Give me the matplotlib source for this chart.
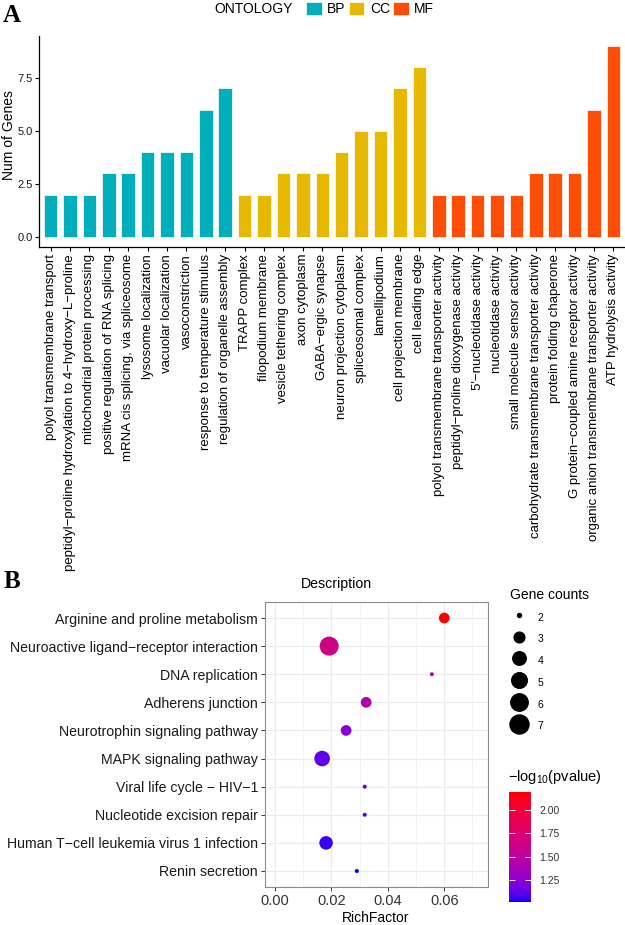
import numpy as np
import matplotlib
matplotlib.use("Agg")
import matplotlib.pyplot as plt
from matplotlib.patches import Patch
from matplotlib.lines import Line2D
from matplotlib.colors import ListedColormap, Normalize
from matplotlib.cm import ScalarMappable

plt.rcParams['font.family'] = ['Liberation Sans', 'DejaVu Sans']
plt.rcParams['mathtext.default'] = 'regular'

# ---- panel A data: GO terms ----
bp_terms = ["polyol transmembrane transport",
            "peptidyl\u2212proline hydroxylation to 4\u2212hydroxy\u2212L\u2212proline",
            "mitochondrial protein processing",
            "positive regulation of RNA splicing",
            "mRNA cis splicing, via spliceosome",
            "lysosome localization",
            "vacuolar localization",
            "vasoconstriction",
            "response to temperature stimulus",
            "regulation of organelle assembly"]
bp_counts = [2, 2, 2, 3, 3, 4, 4, 4, 6, 7]

cc_terms = ["TRAPP complex",
            "filopodium membrane",
            "vesicle tethering complex",
            "axon cytoplasm",
            "GABA\u2212ergic synapse",
            "neuron projection cytoplasm",
            "spliceosomal complex",
            "lamellipodium",
            "cell projection membrane",
            "cell leading edge"]
cc_counts = [2, 2, 3, 3, 3, 4, 5, 5, 7, 8]

mf_terms = ["polyol transmembrane transporter activity",
            "peptidyl\u2212proline dioxygenase activity",
            "5'\u2212nucleotidase activity",
            "nucleotidase activity",
            "small molecule sensor activity",
            "carbohydrate transmembrane transporter activity",
            "protein folding chaperone",
            "G protein\u2212coupled amine receptor activity",
            "organic anion transmembrane transporter activity",
            "ATP hydrolysis activity"]
mf_counts = [2, 2, 2, 2, 2, 3, 3, 3, 6, 9]

ontologies = ["BP", "CC", "MF"]
onto_colors = {"BP": "#00AFBB", "CC": "#E7B800", "MF": "#FC4E07"}

# ---- panel B data: KEGG pathways ----
pathways = ["Arginine and proline metabolism",
            "Neuroactive ligand\u2212receptor interaction",
            "DNA replication",
            "Adherens junction",
            "Neurotrophin signaling pathway",
            "MAPK signaling pathway",
            "Viral life cycle \u2212 HIV\u22121",
            "Nucleotide excision repair",
            "Human T\u2212cell leukemia virus 1 infection",
            "Renin secretion"]
rich_factor = [0.0600, 0.0192, 0.0556, 0.0323, 0.0252, 0.0167, 0.0318, 0.0318, 0.0181, 0.0290]
gene_counts = [3, 7, 2, 3, 3, 5, 2, 2, 4, 2]
neg_log_p = [2.193, 1.63, 1.49, 1.41, 1.23, 1.12, 1.09, 1.09, 1.05, 1.017]


def srgb_to_lab(rgb):
    c = np.asarray(rgb, float)
    lin = np.where(c <= 0.04045, c / 12.92, ((c + 0.055) / 1.055) ** 2.4)
    m = np.array([[0.4124, 0.3576, 0.1805],
                  [0.2126, 0.7152, 0.0722],
                  [0.0193, 0.1192, 0.9505]])
    xyz = m @ lin / np.array([0.95047, 1.0, 1.08883])
    f = np.where(xyz > 0.008856, np.cbrt(xyz), 7.787 * xyz + 16 / 116)
    return np.array([116 * f[1] - 16, 500 * (f[0] - f[1]), 200 * (f[1] - f[2])])


def lab_to_srgb(lab):
    L, a, b = lab
    fy = (L + 16) / 116
    f = np.array([fy + a / 500, fy, fy - b / 200])
    xyz = np.where(f ** 3 > 0.008856, f ** 3, (f - 16 / 116) / 7.787) * np.array([0.95047, 1.0, 1.08883])
    minv = np.array([[3.2406, -1.5372, -0.4986],
                     [-0.9689, 1.8758, 0.0415],
                     [0.0557, -0.2040, 1.0570]])
    lin = np.clip(minv @ xyz, 0, 1)
    srgb = np.where(lin <= 0.0031308, 12.92 * lin, 1.055 * lin ** (1 / 2.4) - 0.055)
    return np.clip(srgb, 0, 1)


# blue -> red gradient interpolated in Lab (like ggplot's gradient)
lab_lo = srgb_to_lab([0, 0, 1])
lab_hi = srgb_to_lab([1, 0, 0])
grad = [lab_to_srgb(lab_lo + t * (lab_hi - lab_lo)) for t in np.linspace(0, 1, 256)]
cmap = ListedColormap(grad)


def point_diam(n):
    # area scale, size range 1..6 (+ stroke), in pixels
    lo, hi = min(gene_counts), max(gene_counts)
    return 3.0 * (1 + 5 * np.sqrt((n - lo) / (hi - lo))) + 1.0


W, H = 625, 925
fig = plt.figure(figsize=(W / 100, H / 100), dpi=100)

# ================= panel A =================
ax1 = fig.add_axes([39 / W, 1 - 247 / H, (W - 39) / W, (247 - 36) / H])
terms = bp_terms + cc_terms + mf_terms
counts = bp_counts + cc_counts + mf_counts
groups = ["BP"] * len(bp_terms) + ["CC"] * len(cc_terms) + ["MF"] * len(mf_terms)
xpos = np.arange(len(terms))
ax1.bar(xpos, counts, width=0.7, color=[onto_colors[g] for g in groups],
        edgecolor="white", linewidth=0.5)
ax1.set_xlim(-0.6, len(terms) - 0.4)
ax1.set_ylim(-0.45, 9.45)
ax1.set_yticks([0, 2.5, 5, 7.5])
ax1.set_yticklabels(["0.0", "2.5", "5.0", "7.5"])
ax1.set_xticks(xpos)
ax1.set_xticklabels(terms, rotation=90, fontsize=9.5)
ax1.tick_params(axis="y", labelsize=8, length=3, width=0.8, pad=1.5, labelcolor="#1a1a1a")
ax1.tick_params(axis="x", length=3, width=0.8, pad=2)
for s in ["top", "right"]:
    ax1.spines[s].set_visible(False)
for s in ["left", "bottom"]:
    ax1.spines[s].set_linewidth(0.9)

fig.text(9 / W, 1 - 135 / H, "Num of Genes", rotation=90, ha="center", va="center", fontsize=10)

fig.text(214 / W, 1 - 9 / H, "ONTOLOGY", ha="left", va="center", fontsize=10)
handles = [Patch(facecolor=onto_colors[o], edgecolor="white", linewidth=0.5) for o in ontologies]
fig.legend(handles, ontologies, ncol=3, loc="center left",
           bbox_to_anchor=(306 / W, 1 - 9 / H), frameon=False, fontsize=10,
           handlelength=1.12, handleheight=1.12, handletextpad=0.41,
           columnspacing=0.22, borderpad=0, borderaxespad=0)

fig.text(12 / W, 1 - 16 / H, "A", ha="center", va="center", fontsize=18,
         fontweight="bold", family="Liberation Serif")

# ================= panel B =================
ax2 = fig.add_axes([265 / W, 1 - 887.3 / H, (487.7 - 265) / W, (887.3 - 601.7) / H])
ypos = np.arange(len(pathways))
norm = Normalize(vmin=min(neg_log_p), vmax=max(neg_log_p))
sizes = [(point_diam(n) * 0.72) ** 2 for n in gene_counts]
ax2.scatter(rich_factor, ypos, s=sizes, c=neg_log_p, cmap=cmap, norm=norm,
            edgecolors="none", zorder=3)
ax2.set_ylim(len(pathways) - 1 + 0.58, -0.58)
ax2.set_xlim(-0.00355, 0.0754)
ax2.set_yticks(ypos)
ax2.set_yticklabels(pathways, fontsize=10.2, color="#1a1a1a")
ax2.set_xticks([0, 0.02, 0.04, 0.06])
ax2.set_xticklabels(["0.00", "0.02", "0.04", "0.06"], fontsize=10.5, color="#333333")
ax2.set_xticks([0.01, 0.03, 0.05, 0.07], minor=True)
ax2.tick_params(axis="both", which="major", length=3, width=0.7, color="#333333", pad=2)
ax2.tick_params(axis="x", which="minor", length=0)
ax2.set_axisbelow(True)
ax2.grid(True, which="major", color="#EBEBEB", linewidth=0.9)
ax2.grid(True, which="minor", axis="x", color="#F0F0F0", linewidth=0.5)
for s in ax2.spines.values():
    s.set_color("#8C8C8C")
    s.set_linewidth(0.8)

fig.text(336 / W, 1 - 584 / H, "Description", ha="center", va="center", fontsize=10.2)
fig.text(376 / W, 1 - 918 / H, "RichFactor", ha="center", va="center", fontsize=10)
fig.text(12 / W, 1 - 582 / H, "B", ha="center", va="center", fontsize=18,
         fontweight="bold", family="Liberation Serif")

# size legend
size_levels = [2, 3, 4, 5, 6, 7]
size_handles = [Line2D([], [], linestyle="none", marker="o", color="black",
                       markersize=point_diam(n) * 0.72) for n in size_levels]
leg = fig.legend(size_handles, [str(n) for n in size_levels], loc="upper left",
                 bbox_to_anchor=(510 / W, 1 - 588 / H), frameon=False, fontsize=7.5,
                 title="Gene counts", title_fontsize=10, alignment="left",
                 handlelength=1.8, handleheight=2.1, labelspacing=0.48,
                 handletextpad=0.84, borderpad=0, borderaxespad=0)
leg._legend_box.sep = 5

# colour bar
cax = fig.add_axes([509.3 / W, 1 - 901.7 / H, 21.4 / W, 109.7 / H])
cb = fig.colorbar(ScalarMappable(norm=norm, cmap=cmap), cax=cax)
cb.outline.set_visible(False)
cb.set_ticks([1.25, 1.5, 1.75, 2.0])
cb.set_ticklabels(["1.25", "1.50", "1.75", "2.00"])
cax.yaxis.set_ticks_position("both")
cax.tick_params(axis="y", direction="in", length=4, width=0.7, color="white",
                labelsize=7.5, labelcolor="#333333", pad=6, labelleft=False, labelright=True)
fig.text(508 / W, 1 - 777 / H, r"$\mathregular{-log_{10}(pvalue)}$", ha="left", va="center", fontsize=10.5)

fig.savefig("out.png", dpi=100)
